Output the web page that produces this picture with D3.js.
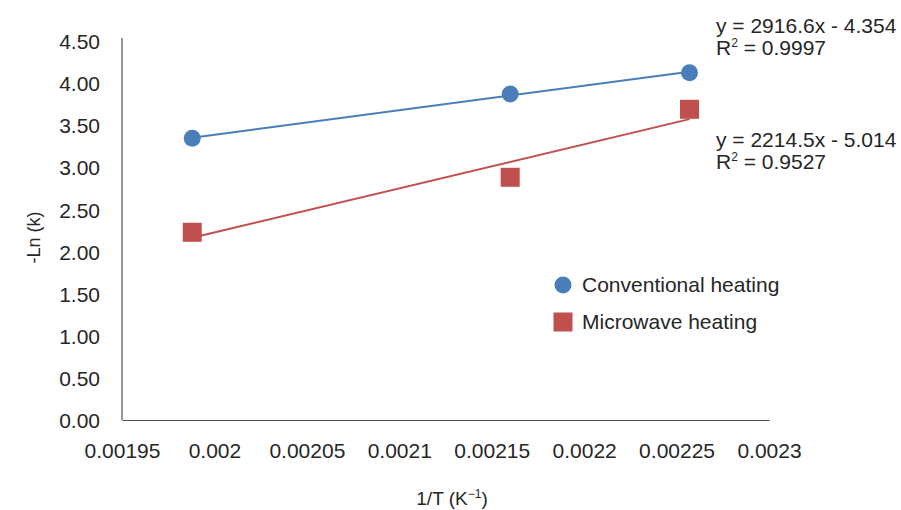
<!DOCTYPE html>
<html>
<head>
<meta charset="utf-8">
<script src="https://cdn.jsdelivr.net/npm/d3@7"></script>
<style>
  html, body { margin: 0; padding: 0; background: #fff; }
  svg { display: block; font-family: "Liberation Sans", Arial, sans-serif; }
</style>
</head>
<body>
<svg id="chart" width="901" height="510"></svg>
<script>
// Arrhenius-type plot: -ln(k) against 1/T for two heating methods
const invT = [0.001988, 0.002160, 0.002257];          // 1/T (K^-1)
const conventional = [3.345, 3.871, 4.124];           // -ln(k), conventional heating
const microwave = [2.229, 2.882, 3.689];              // -ln(k), microwave heating

const xTicks = [0.00195, 0.002, 0.00205, 0.0021, 0.00215, 0.0022, 0.00225, 0.0023];
const xTickLabels = ["0.00195", "0.002", "0.00205", "0.0021", "0.00215", "0.0022", "0.00225", "0.0023"];
const yTicks = [0, 0.5, 1, 1.5, 2, 2.5, 3, 3.5, 4, 4.5];
const yTickLabels = ["0.00", "0.50", "1.00", "1.50", "2.00", "2.50", "3.00", "3.50", "4.00", "4.50"];

const seriesNames = ["Conventional heating", "Microwave heating"];
const fitLabels = [
  ["y = 2916.6x - 4.354", "0.9997"],
  ["y = 2214.5x - 5.014", "0.9527"]
];

const W = 901, H = 510;
const margin = { top: 41, right: 132, bottom: 90, left: 122 };
const blue = "#4a7ebb", red = "#c0504d";
const textColor = "#262626", axisColor = "#4d4d4d";
const fontSize = 21;

const svg = d3.select("#chart");

const x = d3.scaleLinear().domain([0.00195, 0.0023]).range([margin.left, W - margin.right]);
const y = d3.scaleLinear().domain([0, 4.5]).range([H - margin.bottom, margin.top]);

// axes (no tick marks, just the lines and labels)
const xAxis = d3.axisBottom(x).tickValues(xTicks)
  .tickFormat((d, i) => xTickLabels[i]).tickSize(0).tickPadding(0);
const yAxis = d3.axisLeft(y).tickValues(yTicks)
  .tickFormat((d, i) => yTickLabels[i]).tickSize(0).tickPadding(0);

const gx = svg.append("g").attr("transform", `translate(0,${H - margin.bottom})`).call(xAxis);
const gy = svg.append("g").attr("transform", `translate(${margin.left},0)`).call(yAxis);

[gx, gy].forEach(g => {
  g.select(".domain").attr("stroke", axisColor).attr("stroke-width", 1.2);
  g.selectAll("text").attr("fill", textColor)
    .style("font-size", fontSize + "px")
    .style("font-family", '"Liberation Sans", Arial, sans-serif');
});
// the value axis line runs a little past the top tick
gy.select(".domain").attr("d", `M0,${y(0)}V${y(4.5) - 3}`);
gx.selectAll("text").attr("dy", null).attr("y", 38);
gy.selectAll("text").attr("x", -22).attr("dy", "0.36em");

// axis titles
svg.append("text")
  .attr("transform", `translate(40,${(margin.top + H - margin.bottom) / 2 + 7}) rotate(-90)`)
  .attr("text-anchor", "middle").attr("fill", textColor).style("font-size", "18px")
  .text("-Ln (k)");

const xTitle = svg.append("text")
  .attr("x", 452).attr("y", 505)
  .attr("text-anchor", "middle").attr("fill", textColor).style("font-size", "19px");
xTitle.append("tspan").text("1/T (K");
xTitle.append("tspan").attr("dy", -7).style("font-size", "12px").text("\u22121");
xTitle.append("tspan").attr("dy", 7).text(")");

// least-squares trendline through a series
function fit(xs, ys) {
  const mx = d3.mean(xs), my = d3.mean(ys);
  const sxy = d3.sum(xs, (v, i) => (v - mx) * (ys[i] - my));
  const sxx = d3.sum(xs, v => (v - mx) ** 2);
  const b = sxy / sxx;
  return { b, a: my - b * mx };
}

const series = [
  { values: conventional, color: blue, shape: "circle" },
  { values: microwave, color: red, shape: "square" }
];

const xExt = d3.extent(invT);
series.forEach(s => {
  const f = fit(invT, s.values);
  svg.append("line")
    .attr("x1", x(xExt[0])).attr("y1", y(f.a + f.b * xExt[0]))
    .attr("x2", x(xExt[1])).attr("y2", y(f.a + f.b * xExt[1]))
    .attr("stroke", s.color).attr("stroke-width", 2);
});

function drawMarker(g, shape, cx, cy, color) {
  if (shape === "circle") {
    g.append("circle").attr("cx", cx).attr("cy", cy).attr("r", 8.5).attr("fill", color);
  } else {
    g.append("rect").attr("x", cx - 9.5).attr("y", cy - 9.5)
      .attr("width", 19).attr("height", 19).attr("fill", color);
  }
}

series.forEach(s => {
  const g = svg.append("g");
  s.values.forEach((v, i) => drawMarker(g, s.shape, x(invT[i]), y(v), s.color));
});

// trendline equations
const eqPos = [{ x: 716, y: 33 }, { x: 716, y: 147 }];
fitLabels.forEach((lab, i) => {
  const g = svg.append("g").attr("fill", textColor).style("font-size", fontSize + "px");
  g.append("text").attr("x", eqPos[i].x).attr("y", eqPos[i].y).text(lab[0]);
  const t = g.append("text").attr("x", eqPos[i].x).attr("y", eqPos[i].y + 22);
  t.append("tspan").text("R");
  t.append("tspan").attr("dy", -8).style("font-size", "12px").text("2");
  t.append("tspan").attr("dy", 8).text(" = " + lab[1]);
});

// legend
const legend = svg.append("g");
seriesNames.forEach((name, i) => {
  const ly = 285 + i * 37;
  drawMarker(legend, series[i].shape, 563, ly, series[i].color);
  legend.append("text").attr("x", 582).attr("y", ly).attr("dy", "0.35em")
    .attr("fill", textColor).style("font-size", fontSize + "px").text(name);
});
</script>
</body>
</html>
